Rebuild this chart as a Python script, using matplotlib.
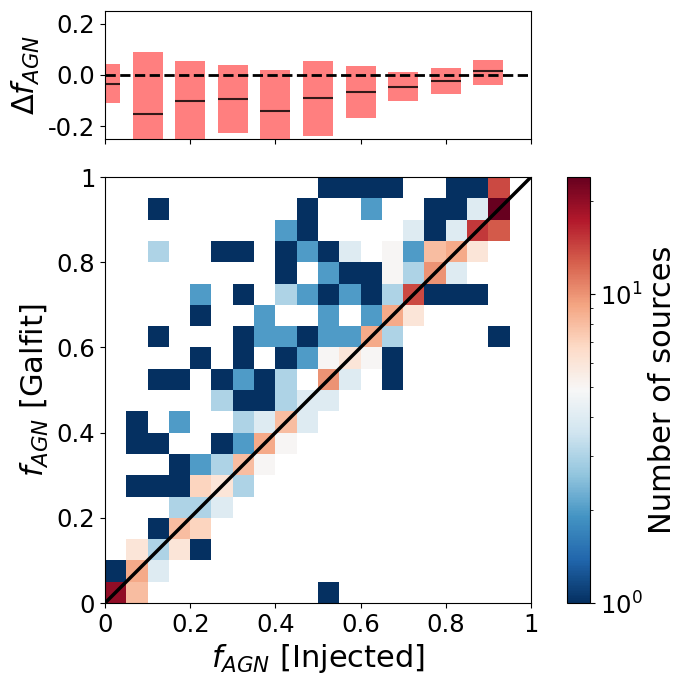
import numpy as np
import matplotlib
matplotlib.use('Agg')
import matplotlib.pyplot as plt
from matplotlib.colors import LogNorm
from matplotlib.ticker import FormatStrFormatter

plt.rcParams['axes.unicode_minus'] = False

# number of sources per (injected, galfit) bin of 0.05
# rows go from the top (f_galfit 0.95-1.0) down to the bottom (0-0.05)
counts_top_down = [
    [0, 0, 0, 0, 0, 0, 0, 0, 0, 0, 1, 1, 1, 1, 0, 0, 1, 1, 14, 0],
    [0, 0, 1, 0, 0, 0, 0, 0, 0, 1, 0, 0, 2, 0, 0, 1, 1, 4, 24, 0],
    [0, 0, 0, 0, 0, 0, 0, 0, 2, 1, 0, 0, 0, 0, 4, 1, 4, 15, 13, 0],
    [0, 0, 3, 0, 0, 1, 1, 0, 1, 2, 1, 4, 0, 5, 2, 8, 9, 6, 0, 0],
    [0, 0, 0, 0, 0, 0, 0, 0, 1, 0, 2, 1, 1, 5, 3, 10, 4, 0, 0, 0],
    [0, 0, 0, 0, 2, 0, 1, 0, 3, 2, 1, 2, 1, 3, 14, 1, 1, 1, 0, 0],
    [0, 0, 0, 0, 1, 0, 0, 2, 0, 0, 2, 0, 2, 9, 6, 0, 0, 0, 0, 0],
    [0, 0, 1, 0, 0, 0, 1, 2, 2, 1, 2, 2, 9, 3, 0, 0, 0, 0, 1, 0],
    [0, 0, 0, 0, 1, 0, 1, 0, 1, 2, 5, 6, 5, 1, 0, 0, 0, 0, 0, 0],
    [0, 0, 1, 1, 0, 1, 2, 1, 3, 0, 10, 4, 0, 1, 0, 0, 0, 0, 0, 0],
    [0, 0, 0, 0, 0, 3, 1, 1, 3, 4, 4, 0, 0, 0, 0, 0, 0, 0, 0, 0],
    [0, 1, 0, 2, 0, 0, 3, 4, 8, 4, 0, 0, 0, 0, 0, 0, 0, 0, 0, 0],
    [0, 1, 1, 0, 0, 1, 2, 9, 5, 0, 0, 0, 0, 0, 0, 0, 0, 0, 0, 0],
    [0, 0, 0, 1, 2, 3, 8, 5, 0, 0, 0, 0, 0, 0, 0, 0, 0, 0, 0, 0],
    [0, 1, 1, 1, 7, 6, 3, 0, 0, 0, 0, 0, 0, 0, 0, 0, 0, 0, 0, 0],
    [0, 0, 0, 3, 3, 4, 0, 0, 0, 0, 0, 0, 0, 0, 0, 0, 0, 0, 0, 0],
    [0, 0, 1, 8, 7, 0, 0, 0, 0, 0, 0, 0, 0, 0, 0, 0, 0, 0, 0, 0],
    [0, 6, 3, 6, 1, 0, 0, 0, 0, 0, 0, 0, 0, 0, 0, 0, 0, 0, 0, 0],
    [1, 9, 4, 0, 0, 0, 0, 0, 0, 0, 0, 0, 0, 0, 0, 0, 0, 0, 0, 0],
    [20, 8, 0, 0, 0, 0, 0, 0, 0, 0, 1, 0, 0, 0, 0, 0, 0, 0, 0, 0],
]

# residuals per 0.1 bin of injected f_AGN
bin_left = [0.0, 0.1, 0.2, 0.3, 0.4, 0.5, 0.6, 0.7, 0.8, 0.9]
delta_hi = [0.043, 0.089, 0.054, 0.039, 0.019, 0.054, 0.035, 0.012, 0.027, 0.058]
delta_lo = [-0.111, -0.30, -0.30, -0.227, -0.30, -0.239, -0.169, -0.103, -0.074, -0.039]
delta_med = [-0.035, -0.154, -0.103, -0.095, -0.142, -0.092, -0.065, -0.046, -0.022, 0.014]

counts = np.array(counts_top_down)[::-1]
edges = np.linspace(0, 1, 21)

fig = plt.figure(figsize=(6.84, 6.84), dpi=100)
ax = fig.add_axes([0.1535, 0.1184, 0.6228, 0.6228])
ax_top = fig.add_axes([0.1535, 0.797, 0.6228, 0.187])
cax = fig.add_axes([0.829, 0.1184, 0.0336, 0.6228])

# main 2d histogram
mesh = ax.pcolormesh(edges, edges, np.ma.masked_equal(counts, 0), cmap='RdBu_r',
                     norm=LogNorm(vmin=1, vmax=counts.max()))
ax.plot([0, 1], [0, 1], color='k', lw=2.5)
ax.set_xlim(0, 1)
ax.set_ylim(0, 1)
ticks = [0, 0.2, 0.4, 0.6, 0.8, 1]
ax.set_xticks(ticks)
ax.set_yticks(ticks)
ax.set_xticklabels(['%g' % t for t in ticks])
ax.set_yticklabels(['%g' % t for t in ticks])
ax.tick_params(labelsize=17.5)
ax.set_xlabel(r'$f_{AGN}$ [Injected]', fontsize=22)
ax.set_ylabel(r'$f_{AGN}$ [Galfit]', fontsize=22)

cb = fig.colorbar(mesh, cax=cax)
cb.set_label('Number of sources', fontsize=22)
cb.ax.tick_params(labelsize=17.5)

# residual panel
x = np.array(bin_left)
hi = np.array(delta_hi)
lo = np.array(delta_lo)
ax_top.bar(x, hi - lo, bottom=lo, width=0.07, color='red', alpha=0.5)
ax_top.hlines(delta_med, x - 0.035, x + 0.035, color='k', alpha=0.8, lw=1.5)
ax_top.axhline(0, color='k', ls='--', lw=2)
ax_top.set_xlim(0, 1)
ax_top.set_ylim(-0.25, 0.25)
ax_top.set_xticks(ticks)
ax_top.set_xticklabels([])
ax_top.set_yticks([-0.2, 0.0, 0.2])
ax_top.yaxis.set_major_formatter(FormatStrFormatter('%.1f'))
ax_top.tick_params(labelsize=17.5)
ax_top.set_ylabel(r'$\Delta f_{AGN}$', fontsize=22)

fig.savefig('out.png', dpi=100)
